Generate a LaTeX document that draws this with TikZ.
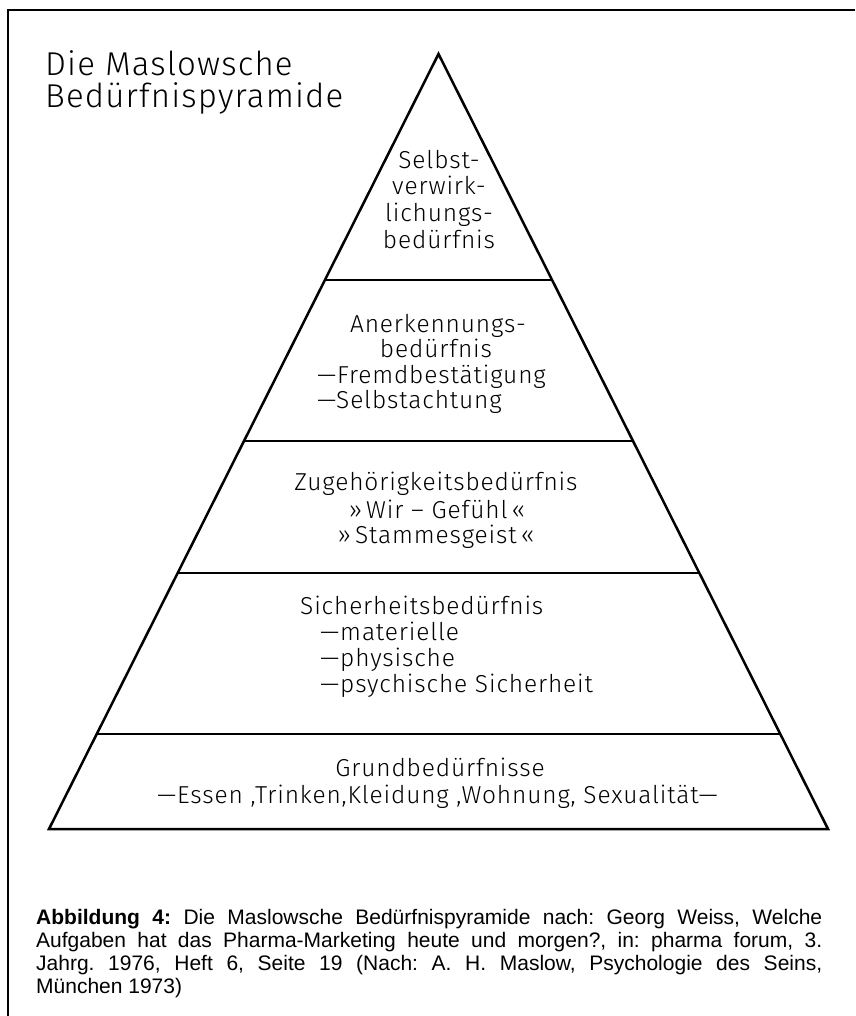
\documentclass[tikz,border=0pt]{standalone}
\usepackage{fontspec}
\IfFontExistsTF{Fira Sans Light}
  {\setmainfont{Fira Sans Light}[LetterSpace=3.5]}
  {\setmainfont{Fira Sans}[LetterSpace=3.5]}
\newfontfamily\capfont{Liberation Sans}
\usetikzlibrary{calc}
\begin{document}
\frenchspacing
\begin{tikzpicture}[x=1pt,y=-1pt,
  frame/.style={line width=1.8pt},
  pyr/.style={line width=2.5pt, line join=miter},
  divider/.style={line width=2pt},
  lbl/.style={font=\fontsize{24.5}{26}\selectfont, inner sep=0pt, anchor=base},
  lbll/.style={font=\fontsize{24.5}{26}\selectfont, inner sep=0pt, anchor=base west},
  ttl/.style={font=\fontsize{33}{33}\selectfont, inner sep=0pt, anchor=base west},
  captxt/.style={font=\capfont\fontsize{21}{24}\selectfont, inner sep=0pt, anchor=base west},
]
\useasboundingbox (0,0) rectangle (855,1016);
% frame
\coordinate (F0) at (8,1016);
\coordinate (F1) at (8,10);
\coordinate (F2) at (855,10);
\draw[frame] (F0) -- (F1) -- (F2);
% pyramid
\coordinate (A) at (438.5,54);
\coordinate (L) at (49,829);
\coordinate (R) at (828,829);
\draw[pyr] (A) -- (L) -- (R) -- cycle;
\foreach \t [count=\i] in {0.2916,0.4994,0.6697,0.8774} {
  \coordinate (dl\i) at ($(A)!\t!(L)$);
  \coordinate (dr\i) at ($(A)!\t!(R)$);
  \draw[divider] (dl\i) -- (dr\i);
}
% title
\node[ttl] (title1) at (45,76) {Die Maslowsche};
\node[ttl] (title2) at (45,108) {Bedürfnispyramide};
% level 1
\node[lbl] (t1a) at (439,169) {Selbst-};
\node[lbl] (t1b) at (439,195) {verwirk-};
\node[lbl] (t1c) at (439,222) {lichungs-};
\node[lbl] (t1d) at (439,248) {bedürfnis};
% level 2
\node[lbl] (t2a) at (438,332) {Anerkennungs-};
\node[lbl] (t2b) at (436,357) {bedürfnis};
\node[lbll] (t2c) at (317,383) {—Fremdbestätigung};
\node[lbll] (t2d) at (317,408) {—Selbstachtung};
% level 3
\node[lbl] (t3a) at (436,490) {Zugehörigkeitsbedürfnis};
\node[lbl] (t3b) at (437,518) {»\,Wir – Gefühl\,«};
\node[lbl] (t3c) at (436,543) {»\,Stammesgeist\,«};
% level 4
\node[lbll] (t4a) at (300,614) {Sicherheitsbedürfnis};
\node[lbll] (t4b) at (320,640) {—materielle};
\node[lbll] (t4c) at (320,666) {—physische};
\node[lbll] (t4d) at (320,692) {—psychische Sicherheit};
% level 5
\node[lbl] (t5a) at (440,776) {Grundbedürfnisse};
\node[lbl] (t5b) at (437.5,803) {—Essen ,Trinken,Kleidung ,Wohnung, Sexualität—};
% caption
\node[captxt] (c1) at (36,924) {\makebox[786pt][s]{\bfseries Abbildung 4:\mdseries{} Die Maslowsche Bedürfnispyramide nach: Georg Weiss, Welche}};
\node[captxt] (c2) at (36,947) {\makebox[786pt][s]{Aufgaben hat das Pharma-Marketing heute und morgen?, in: pharma forum, 3.}};
\node[captxt] (c3) at (36,970) {\makebox[786pt][s]{Jahrg. 1976, Heft 6, Seite 19 (Nach: A. H. Maslow, Psychologie des Seins,}};
\node[captxt] (c4) at (36,993) {München 1973)};
\end{tikzpicture}
\end{document}
